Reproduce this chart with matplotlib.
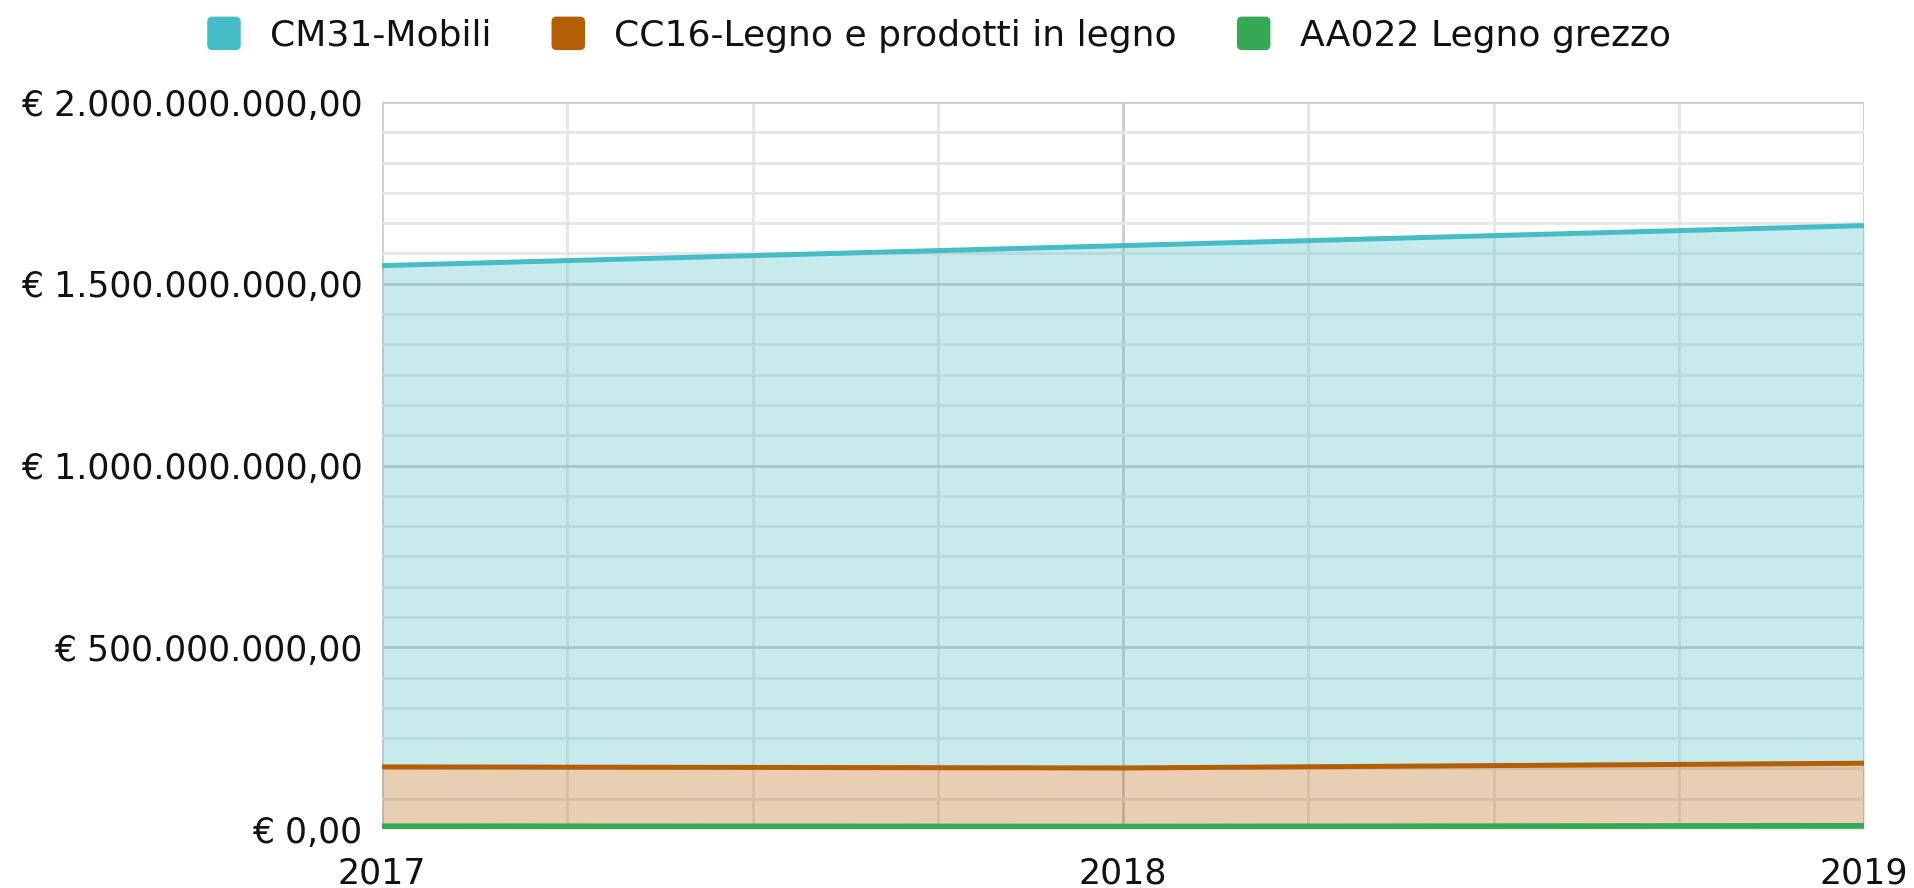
import matplotlib
matplotlib.use("Agg")
import matplotlib.pyplot as plt
from matplotlib.patches import Patch, FancyBboxPatch
from matplotlib.legend_handler import HandlerPatch
from matplotlib.ticker import FuncFormatter, MultipleLocator

# data
years = [2017, 2018, 2019]
cm31_mobili = [1.550e9, 1.605e9, 1.660e9]
cc16_legno = [171e6, 168e6, 181e6]
aa022_grezzo = [8e6, 7e6, 9e6]
series_names = ["CM31-Mobili", "CC16-Legno e prodotti in legno", "AA022 Legno grezzo"]

teal = "#46bdc6"
orange = "#b45f06"
green = "#34a853"
txt = "#111111"

plt.rcParams['font.family'] = ['DejaVu Sans']

# format like "€ 1.500.000.000,00"
def euro(v, pos):
    s = "{:,.2f}".format(v)
    s = s.replace(",", "X").replace(".", ",").replace("X", ".")
    return "€ " + s

# rounded square for the legend
def rounded_square(legend, orig_handle, xdescent, ydescent, width, height, fontsize):
    side = min(width, height)
    x0 = -xdescent + (width - side) / 2
    y0 = -ydescent + (height - side) / 2
    return FancyBboxPatch((x0, y0), side, side,
                          boxstyle="round,pad=0,rounding_size=%f" % (side * 0.15))

fig = plt.figure(figsize=(19.14, 8.88), dpi=100)
ax = fig.add_axes([0.1996, 0.0664, 0.7743, 0.8187])

# areas (drawn band by band so they look like the google chart)
ax.fill_between(years, cc16_legno, cm31_mobili, color=teal, alpha=0.3, lw=0, zorder=2)
ax.fill_between(years, aa022_grezzo, cc16_legno, color=orange, alpha=0.3, lw=0, zorder=2)
ax.fill_between(years, 0, aa022_grezzo, color=green, alpha=0.3, lw=0, zorder=2)

ax.plot(years, cm31_mobili, color=teal, lw=3.6, zorder=4, solid_capstyle='butt')
ax.plot(years, cc16_legno, color=orange, lw=3.6, zorder=4, solid_capstyle='butt')
ax.plot(years, aa022_grezzo, color=green, lw=4.0, zorder=5, solid_capstyle='butt')

ax.set_xlim(2017, 2019)
ax.set_ylim(0, 2e9)

ax.xaxis.set_major_locator(MultipleLocator(1))
ax.xaxis.set_minor_locator(MultipleLocator(0.25))
ax.yaxis.set_major_locator(MultipleLocator(5e8))
ax.yaxis.set_minor_locator(MultipleLocator(5e8 / 6))
ax.yaxis.set_major_formatter(FuncFormatter(euro))
ax.xaxis.set_major_formatter(FuncFormatter(lambda v, p: "%d" % v))

ax.set_axisbelow(True)
ax.grid(which='major', color='#cccccc', lw=2.0, zorder=1)
ax.grid(which='minor', color='#e6e6e6', lw=2.0, zorder=0.5)
for sp in ax.spines.values():
    sp.set_visible(False)
ax.tick_params(which='both', length=0)
ax.tick_params(axis='y', labelsize=25, pad=14, colors=txt)
ax.tick_params(axis='x', labelsize=25, pad=20, colors=txt)

handles = [Patch(facecolor=c, edgecolor='none') for c in (teal, orange, green)]
fig.legend(handles, series_names, loc='center', bbox_to_anchor=(0.490, 0.961),
           ncol=3, frameon=False, fontsize=26, handlelength=1.05, handleheight=1.05,
           handletextpad=0.75, columnspacing=1.6, labelcolor=txt,
           handler_map={Patch: HandlerPatch(patch_func=rounded_square)})

fig.savefig("out.png", dpi=100)
